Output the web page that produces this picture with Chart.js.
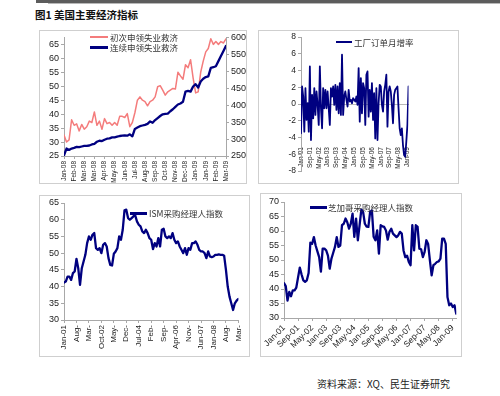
<!DOCTYPE html>
<html><head><meta charset="utf-8">
<script src="https://cdn.jsdelivr.net/npm/chart.js@4.4.0/dist/chart.umd.min.js"></script>
<style>
html,body{margin:0;padding:0;background:#fff;width:500px;height:396px;overflow:hidden;position:relative;font-family:'Noto Sans CJK SC',sans-serif;}
.abs{position:absolute;}
.box{position:absolute;border:1px solid #cfcfcf;box-sizing:border-box;}
canvas{position:absolute;}
.lg{position:absolute;font-size:8.5px;color:#333;line-height:10px;white-space:nowrap;font-family:'Noto Sans CJK SC',sans-serif;}
.sw{position:absolute;}
</style></head><body>
<div class="abs" style="left:36px;top:0;width:464px;height:3px;background:#5c5c5c"></div>
<div class="abs" style="left:48px;top:3px;width:452px;height:1px;background:#b8b8b8"></div>
<div class="abs" style="left:35px;top:9px;font-size:10.5px;font-weight:bold;color:#111;line-height:12px;white-space:nowrap">图1 美国主要经济指标</div>

<div class="box" style="left:39px;top:30px;width:208px;height:154px"></div>
<div class="box" style="left:258px;top:30px;width:201px;height:154px"></div>
<div class="box" style="left:39px;top:195px;width:211px;height:162px"></div>
<div class="box" style="left:260px;top:193px;width:202px;height:164px"></div>

<canvas id="c1" width="208" height="153" style="left:39px;top:30px"></canvas>
<canvas id="c2" width="200" height="153" style="left:258px;top:30px"></canvas>
<canvas id="c3" width="211" height="162" style="left:39px;top:195px"></canvas>
<canvas id="c4" width="202" height="164" style="left:260px;top:193px"></canvas>

<div class="sw" style="left:90px;top:36px;width:18px;height:2px;background:#f47c7c"></div>
<div class="lg" style="left:110px;top:32px">初次申领失业救济</div>
<div class="sw" style="left:90px;top:46px;width:18px;height:2.5px;background:#000080"></div>
<div class="lg" style="left:110px;top:42px">连续申领失业救济</div>

<div class="sw" style="left:336px;top:41px;width:16px;height:2px;background:#000080"></div>
<div class="lg" style="left:354px;top:37px">工厂订单月增率</div>

<div class="sw" style="left:130px;top:212px;width:17px;height:2.5px;background:#000080"></div>
<div class="lg" style="left:149px;top:208px">ISM采购经理人指数</div>

<div class="sw" style="left:310px;top:206px;width:17px;height:2.5px;background:#000080"></div>
<div class="lg" style="left:328px;top:202px">芝加哥采购经理人指数</div>

<div class="abs" style="left:317px;top:378px;font-size:10px;line-height:12px;color:#222;white-space:nowrap">资料来源：XQ、民生证券研究</div>

<script>
// ---------- Panel 1: weekly jobless claims (10k) ----------
const claimsInitial = [32.5,30,30.8,38,36,36.5,34,36.3,34.6,35.5,
  37.5,37,40.8,36,37.5,34.6,38.4,36.6,37,36,
  37,36,39.2,39.2,38.8,40.2,35.5,37,40.5,45,
  46.2,45,44.5,43,44.5,45,46.2,49.8,50.2,48.6,
  46.8,48,48.6,49.2,49,55,53.7,52.5,57.7,56.6,
  59.5,53,47.6,48,55,59,62.3,63.5,67,65,
  66,65,66,65.5,67];
const claimsContinuing = [252,272,268,272,274,277,276,278,280,280,
  281,284,286,292,295,294,298,301,302,305,
  305,307,309,310,311,310,314,308,330,334,
  338,340,342,345,352,348,356,362,368,373,
  374,375,382,388,395,402,405,410,440,442,
  440,455,462,452,470,478,483,485,510,512,
  515,530,545,560,575];
const p1TickPos = [0,4,8,12,16,20,24,28,32,36,40,44,48,52,56,60,64];
const p1TickLabels = ['Jan-08','Feb-08','Mar-08','Mar-08','Apr-08','May-08','Jun-08','Jul-08','Aug-08','Sep-08','Oct-08','Nov-08','Dec-08','Jan-09','Jan-09','Feb-09','Mar-09'];
const p1LeftTicks = [25,30,35,40,45,50,55,60,65];
const p1RightTicks = [250,300,350,400,450,500,550,600];

// ---------- Panel 2: factory orders m/m % ----------
const factoryOrders = [-3.5,2.1,0.9,-3.3,1.9,-1.9,0.1,-3.3,4.5,-4.3,
  1.1,-1.7,1.9,-1.3,1.5,-0.1,-2.5,4.5,-0.5,-2.9,
  1.9,-0.5,1.7,-0.5,1.5,-0.5,-2.5,1.9,0.9,2.1,
  -0.1,2.3,-0.7,2.1,-1.1,2.5,-1.3,5.9,-1.3,0.9,
  1.5,0.5,-0.3,1.7,0.3,0.5,0.1,0.7,0.5,0.3,
  0.9,-0.1,4.3,-2.1,3.1,-1.1,2.5,1.9,-2.5,3.5,
  3.9,-1.5,1.7,-0.9,2.5,-1.9,1.3,-4.1,1.9,-4.3,
  0.1,2.3,2.1,-0.1,-0.9,1.5,2.3,3.5,-2.7,1.5,
  2.1,1.5,-0.1,-2.3,1.1,1.7,1.9,2.1,-0.5,-2.9,
  -3.7,-2.9,-4.9,-6.1,-6.3,-4.5,-2.5,2.1];
const p2TickPos = [0,8,16,24,32,40,48,56,64,72,80,88,96];
const p2TickLabels = ['Jan-01','Sep-01','May-02','Jan-03','Sep-03','May-04','Jan-05','Sep-05','May-06','Jan-07','Sep-07','May-08','Jan-09'];
const p2YTicks = [-8,-6,-4,-2,0,2,4,6,8];

// ---------- Panel 3: ISM PMI ----------
const ismPMI = [41.2,41.5,43,43,42,44,44.5,48.3,45.5,40.5,
  45.5,47.5,49.5,53,55,54,55.5,56,51.5,51,
  51.5,50,52.5,53,52,48.5,46.5,46.3,49.8,50.5,
  51.5,55,54,57,62.8,63,60.5,60,60.5,61,
  61.3,59.5,58.5,58,56.5,56,57,56,54.5,54,
  51.2,53,52,54.5,52,57,57.3,55,54.5,55,
  54.5,56,54,53,53.5,52,51,50,51.5,49.5,
  51.5,51,53,53,53.5,52.5,51,50.5,50.5,50,
  48.5,50.5,49,48.8,49,49.5,49.5,49.6,49.5,49.5,
  49.2,45,40,37,35,33,35,35.8,36.3];
const p3TickPos = [0,7,14,21,28,35,42,49,56,63,70,77,84,91,98];
const p3TickLabels = ['Jan-01','Aug-','Mar-','Oct-02','May-','Dec-','Jul-04','Feb-','Sep-','Apr-06','Nov-','Jun-07','Jan-08','Aug-','Mar-'];
const p3YTicks = [30,35,40,45,50,55,60,65];

// ---------- Panel 4: Chicago PMI ----------
const chicagoPMI = [42,41,36,39,37.5,39.5,39.5,40.5,44,47.4,
  45,43,42.5,43,45.5,56,55.6,57.9,55,53,
  51,46,53.9,53.9,53.3,51.5,47,50.5,52.5,54.5,
  57.9,54.5,55,62,62.5,64.3,63,60.8,62.5,66,
  58,64.3,56.8,62,67.4,66.6,62.5,61.5,61.4,66.6,
  67.1,58,56.8,60.2,52.2,62,61.6,61.4,60.2,57,
  59.7,60.8,59.1,58.5,57.9,58.5,59.7,59.1,53.3,51,
  51.5,49.3,48.2,62,53.3,62,61.4,53.9,53.7,51,
  52.8,56.8,55.5,49.9,44.7,48.2,48.7,49.3,49.5,50.5,
  57.4,57.4,55.6,37.2,34.4,35,33.8,34.4,31.5];
const p4TickPos = [0,8,16,24,32,40,48,56,64,72,80,88,96];
const p4TickLabels = ['Jan-01','Sep-01','May-02','Jan-03','Sep-03','May-04','Jan-05','Sep-05','May-06','Jan-07','Sep-07','May-08','Jan-09'];
const p4YTicks = [30,35,40,45,50,55,60,65,70];

const NAVY = '#000080', PINK = '#f47c7c', AXIS = '#a8a8a8', TXT = '#222';
const TF = "'Liberation Sans', Arial, sans-serif";

function pts(arr){ return arr.map((v,i)=>({x:i,y:v})); }

function yAxis(pos, min, max, ticks, w, size){
  return {type:'linear', position:pos, min:min, max:max,
    afterBuildTicks: s => { s.ticks = ticks.map(v=>({value:v})); },
    afterFit: s => { s.width = w; },
    ticks:{font:{family:TF,size:size}, color:TXT, padding:2},
    grid:{drawOnChartArea:false, drawTicks:true, tickLength:3, color:AXIS},
    border:{display:true, color:AXIS}};
}
function xAxis(max, pos, labels, rot, size, h){
  return {type:'linear', position:'bottom', min:0, max:max,
    afterBuildTicks: s => { s.ticks = pos.map(v=>({value:v})); },
    afterFit: s => { s.height = h; },
    ticks:{autoSkip:false, minRotation:rot, maxRotation:rot, font:{family:TF,size:size}, color:TXT, padding:2,
      callback:(v,i)=>labels[i]},
    grid:{drawOnChartArea:false, drawTicks:true, tickLength:3, color:AXIS},
    border:{display:true, color:AXIS}};
}
function base(padding){
  return {responsive:false, animation:false, devicePixelRatio:1, events:[],
    layout:{padding:padding},
    plugins:{legend:{display:false}, tooltip:{enabled:false}},
    elements:{point:{radius:0}, line:{tension:0, borderJoinStyle:'round', borderCapStyle:'round'}}};
}

// Panel 1
new Chart(document.getElementById('c1'), {
  type:'line',
  data:{datasets:[
    {data:pts(claimsContinuing), borderColor:NAVY, borderWidth:2.3, yAxisID:'y2', order:0},
    {data:pts(claimsInitial), borderColor:PINK, borderWidth:1.5, yAxisID:'y', order:1}
  ]},
  options:Object.assign(base({top:7,left:0,right:0,bottom:0}), {scales:{
    x: xAxis(64, p1TickPos, p1TickLabels, 90, 6.5, 27),
    y: yAxis('left', 25, 67.5, p1LeftTicks, 25, 9),
    y2: yAxis('right', 250, 600, p1RightTicks, 21, 9)
  }})
});

// Panel 2: x axis crosses at zero, labels placed lower inside the plot
const x2 = xAxis(97, p2TickPos, p2TickLabels, 90, 6.5, 0);
x2.position = {y:0};
x2.ticks.padding = 43;
x2.grid = {drawOnChartArea:false, drawTicks:false, color:AXIS};
x2.border = {display:true, color:'#b8b8b8'};
new Chart(document.getElementById('c2'), {
  type:'line',
  data:{datasets:[{data:pts(factoryOrders), borderColor:NAVY, borderWidth:1.8}]},
  options:Object.assign(base({top:7,left:0,right:6,bottom:12}), {scales:{
    x: x2,
    y: yAxis('left', -8, 8, p2YTicks, 17, 8.5)
  }})
});

// Panel 3
new Chart(document.getElementById('c3'), {
  type:'line',
  data:{datasets:[{data:pts(ismPMI), borderColor:NAVY, borderWidth:2.3}]},
  options:Object.assign(base({top:8,left:0,right:6,bottom:0}), {scales:{
    x: xAxis(98, p3TickPos, p3TickLabels, 90, 8, 37),
    y: yAxis('left', 30, 65, p3YTicks, 25, 9)
  }})
});

// Panel 4
new Chart(document.getElementById('c4'), {
  type:'line',
  data:{datasets:[{data:pts(chicagoPMI), borderColor:NAVY, borderWidth:2.3}]},
  options:Object.assign(base({top:9,left:0,right:2,bottom:0}), {scales:{
    x: xAxis(98, p4TickPos, p4TickLabels, 45, 8.5, 39),
    y: yAxis('left', 30, 70, p4YTicks, 24, 9)
  }})
});
</script>
</body></html>
